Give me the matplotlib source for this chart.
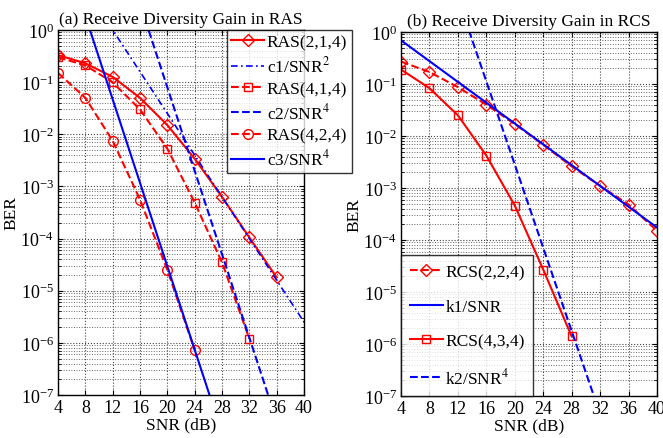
import numpy as np
import matplotlib.pyplot as plt
from matplotlib.ticker import LogLocator, NullFormatter

plt.rcParams['font.family'] = ['Liberation Serif', 'DejaVu Serif']
plt.rcParams['mathtext.fontset'] = 'stix'

snr = [4, 8, 12, 16, 20, 24, 28, 32, 36, 40]

# (a) RAS
ras214 = [0.33, 0.23, 0.126, 0.050, 0.015, 3.4e-3, 6.3e-4, 1.05e-4, 1.8e-5]
ras414 = [0.30, 0.21, 0.099, 0.030, 5.3e-3, 4.9e-4, 3.5e-5, 1.2e-6]
ras424 = [0.15, 0.05, 7.5e-3, 5.6e-4, 2.5e-5, 7.3e-7]
log_c1, log_c2, log_c3 = 2.4, 6.9, 3.47

# (b) RCS
rcs224 = [0.27, 0.17, 0.087, 0.040, 0.017, 6.8e-3, 2.6e-3, 1.1e-3, 4.8e-4, 1.5e-4]
rcs434 = [0.19, 0.083, 0.025, 4.2e-3, 4.6e-4, 2.7e-5, 1.4e-6]
log_k1, log_k2 = 0.24, 5.45

xline = np.linspace(0, 44, 200)
lin = 10 ** (xline / 10)

fig = plt.figure(figsize=(6.63, 4.39), dpi=100)
ax1 = fig.add_axes([58 / 663, 1 - 396 / 439, 246 / 663, 365 / 439])
ax2 = fig.add_axes([401 / 663, 1 - 397 / 439, 256 / 663, 364 / 439])

red = '#ff0000'
blue = '#0000ff'

ax1.semilogy(snr[:9], ras214, '-', color=red, marker='D', mfc='none', ms=6, lw=1.5, label='RAS(2,1,4)')
ax1.semilogy(xline, 10 ** log_c1 / lin ** 2, color=blue, lw=1.2, dashes=(4, 2, 1, 2), label='c1/SNR$^2$')
ax1.semilogy(snr[:8], ras414, '--', color=red, marker='s', mfc='none', ms=6, lw=1.5, label='RAS(4,1,4)')
ax1.semilogy(xline, 10 ** log_c2 / lin ** 4, '--', color=blue, lw=1.5, label='c2/SNR$^4$')
ax1.semilogy(snr[:6], ras424, '--', color=red, marker='o', mfc='none', ms=7, lw=1.5, label='RAS(4,2,4)')
ax1.semilogy(xline, 10 ** log_c3 / lin ** 4, '-', color=blue, lw=1.5, label='c3/SNR$^4$')

ax2.semilogy(snr, rcs224, '--', color=red, marker='D', mfc='none', ms=6, lw=1.5, label='RCS(2,2,4)')
ax2.semilogy(xline, 10 ** log_k1 / lin, '-', color=blue, lw=1.5, label='k1/SNR')
ax2.semilogy(snr[:7], rcs434, '-', color=red, marker='s', mfc='none', ms=6, lw=1.5, label='RCS(4,3,4)')
ax2.semilogy(xline, 10 ** log_k2 / lin ** 4, '--', color=blue, lw=1.5, label='k2/SNR$^4$')

for ax, title in [(ax1, '(a) Receive Diversity Gain in RAS'), (ax2, '(b) Receive Diversity Gain in RCS')]:
    ax.set_xlim(4, 40)
    ax.set_ylim(1e-7, 1)
    ax.set_xticks(snr)
    ax.yaxis.set_major_locator(LogLocator(base=10, numticks=10))
    ax.yaxis.set_minor_locator(LogLocator(base=10, subs=np.arange(2, 10), numticks=100))
    ax.yaxis.set_minor_formatter(NullFormatter())
    ax.grid(True, which='major', ls=':', color='#444444', lw=0.8)
    ax.grid(True, which='minor', axis='y', ls=':', color='#666666', lw=0.7)
    ax.tick_params(direction='in', which='both', top=True, right=True, labelsize=13, pad=3)
    ax.tick_params(which='minor', length=2)
    ax.set_xlabel('SNR (dB)', fontsize=12.5, labelpad=0)
    ax.set_ylabel('BER', fontsize=12.5, labelpad=1)
    ax.set_title(title, fontsize=12.5, pad=5)
    for s in ax.spines.values():
        s.set_linewidth(1.0)

leg1 = ax1.legend(loc='upper left', bbox_to_anchor=(0.687, 1.0), fontsize=12.5, frameon=True,
                  fancybox=False, edgecolor='black', handlelength=1.9, labelspacing=0.3,
                  borderaxespad=0, handletextpad=0.15, borderpad=0.25)
leg1.get_frame().set_linewidth(1.0)
leg2 = ax2.legend(loc='lower left', fontsize=12.5, frameon=True, fancybox=False, edgecolor='black',
                  handlelength=1.9, labelspacing=1.05, borderaxespad=0, handletextpad=0.15,
                  borderpad=0.5)
leg2.get_frame().set_linewidth(1.0)

fig.savefig('out.png', dpi=100)
